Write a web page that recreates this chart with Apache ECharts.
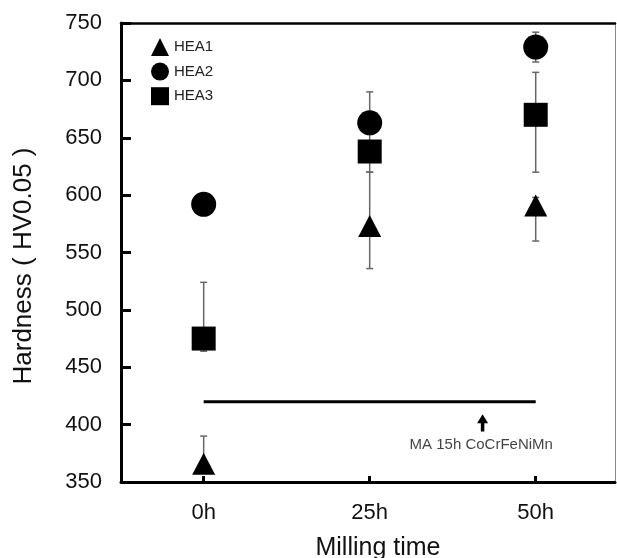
<!DOCTYPE html>
<html>
<head>
<meta charset="utf-8">
<script src="https://cdn.jsdelivr.net/npm/echarts@6/dist/echarts.min.js"></script>
<style>
html,body{margin:0;padding:0;background:#fff;}
#chart{width:617px;height:558px;}
</style>
</head>
<body>
<div id="chart"></div>
<script>
// ---- data ----
const hours = [0, 25, 50];
const hourLabels = ['0h', '25h', '50h'];
const yTicks = [350, 400, 450, 500, 550, 600, 650, 700, 750];
const xAxisName = 'Milling time';
const yAxisName = 'Hardness ( HV0.05 )';

const hea1 = [366, 573, 591];
const hea1Low = [360, 536, 560];
const hea1High = [390, 620, 598];

const hea2 = [592, 663, 729];
const hea2Low = [592, 663, 716];
const hea2High = [592, 663, 742];

const hea3 = [475, 638, 670];
const hea3Low = [464, 620, 620];
const hea3High = [524, 690, 707];

const refLineX = [0, 50];
const refLineY = [420, 420];
const arrowX = [42];
const arrowFrom = [394];
const arrowTo = [409];
const noteText = 'MA 15h CoCrFeNiMn';
const notePos = [41.8, 382];

// ---- build ----
const FONT = '"Liberation Sans", Arial, sans-serif';
function pts(vals) { return hours.map((h, i) => [h, vals[i]]); }
function errs(low, high) { return hours.map((h, i) => [h, low[i], high[i]]); }

const errData = [].concat(errs(hea1Low, hea1High), errs(hea2Low, hea2High), errs(hea3Low, hea3High));

const chart = echarts.init(document.getElementById('chart'), null, {renderer: 'canvas'});
chart.setOption({
  animation: false,
  backgroundColor: '#fff',
  grid: {left: 121, right: 2, top: 23, bottom: 76, containLabel: false, outerBoundsMode: 'none'},
  legend: {
    orient: 'vertical', left: 151, top: 38, padding: 0,
    itemWidth: 18, itemHeight: 18, itemGap: 6.6,
    textStyle: {fontFamily: FONT, fontSize: 15, color: '#222'},
    data: ['HEA1', 'HEA2', 'HEA3']
  },
  graphic: [
    {type: 'text', x: 378, y: 548, silent: true,
      style: {text: xAxisName, font: '25px ' + FONT, fill: '#111', align: 'center', verticalAlign: 'middle'}},
    {type: 'text', x: 24, y: 266, rotation: Math.PI / 2, silent: true,
      style: {text: yAxisName, font: '26px ' + FONT, fill: '#111', align: 'center', verticalAlign: 'middle'}}
  ],
  xAxis: [{
    type: 'value', min: -12.45, max: 61.94,
    splitLine: {show: false},
    axisLine: {onZero: false, lineStyle: {color: '#000', width: 3}},
    axisTick: {show: true, inside: true, length: 6, lineStyle: {color: '#000', width: 3}, customValues: hours},
    axisLabel: {customValues: hours, formatter: v => hourLabels[hours.indexOf(v)] || '',
      fontFamily: FONT, fontSize: 22, color: '#111', margin: 20}
  }, {
    type: 'value', position: 'top', min: -12.45, max: 61.94,
    splitLine: {show: false}, axisTick: {show: false}, axisLabel: {show: false},
    axisLine: {show: true, onZero: false, lineStyle: {color: '#000', width: 2.5}}
  }],
  yAxis: [{
    type: 'value', min: 350, max: 750, interval: 50,
    splitLine: {show: false},
    axisLine: {show: true, onZero: false, lineStyle: {color: '#000', width: 3}},
    axisTick: {show: true, inside: true, length: 10, lineStyle: {color: '#000', width: 3}},
    axisLabel: {fontFamily: FONT, fontSize: 22, color: '#111', margin: 19,
      formatter: v => yTicks.includes(v) ? String(v) : ''}
  }, {
    type: 'value', position: 'right', min: 350, max: 750,
    splitLine: {show: false}, axisTick: {show: false}, axisLabel: {show: false},
    axisLine: {show: true, onZero: false, lineStyle: {color: '#888', width: 1}}
  }],
  series: [
    {
      type: 'custom', name: 'err', z: 1, silent: true,
      data: errData,
      renderItem: function (params, api) {
        const x = api.value(0);
        const lo = api.coord([x, api.value(1)]);
        const hi = api.coord([x, api.value(2)]);
        const c = 3.5;
        const st = {stroke: '#666', lineWidth: 1.5};
        return {type: 'group', children: [
          {type: 'line', shape: {x1: lo[0], y1: lo[1], x2: hi[0], y2: hi[1]}, style: st},
          {type: 'line', shape: {x1: lo[0] - c, y1: lo[1], x2: lo[0] + c, y2: lo[1]}, style: st},
          {type: 'line', shape: {x1: hi[0] - c, y1: hi[1], x2: hi[0] + c, y2: hi[1]}, style: st}
        ]};
      }
    },
    {
      type: 'line', name: 'ref', z: 2, silent: true, symbol: 'none',
      data: refLineX.map((x, i) => [x, refLineY[i]]),
      lineStyle: {color: '#000', width: 3}
    },
    {
      type: 'custom', name: 'arrow', z: 3, silent: true,
      data: arrowX.map((x, i) => [x, arrowFrom[i], arrowTo[i]]),
      renderItem: function (params, api) {
        const x = api.value(0);
        const a = api.coord([x, api.value(1)]);
        const b = api.coord([x, api.value(2)]);
        const hw = 5.5, hh = 9;
        return {type: 'group', children: [
          {type: 'line', shape: {x1: a[0], y1: a[1], x2: b[0], y2: b[1] + hh - 1}, style: {stroke: '#000', lineWidth: 3.5}},
          {type: 'polygon', shape: {points: [[b[0], b[1]], [b[0] - hw, b[1] + hh], [b[0] + hw, b[1] + hh]]}, style: {fill: '#000'}}
        ]};
      }
    },
    {
      type: 'scatter', name: 'note', z: 3, silent: true, symbolSize: 1,
      itemStyle: {color: 'rgba(0,0,0,0)'},
      data: [notePos],
      label: {show: true, position: 'inside', formatter: noteText,
        fontFamily: FONT, fontSize: 15, color: '#111'}
    },
    {
      type: 'scatter', name: 'HEA1', z: 5, symbol: 'triangle', symbolSize: [23, 22],
      itemStyle: {color: '#000', opacity: 1}, data: pts(hea1)
    },
    {
      type: 'scatter', name: 'HEA2', z: 5, symbol: 'circle', symbolSize: 25,
      itemStyle: {color: '#000', opacity: 1}, data: pts(hea2)
    },
    {
      type: 'scatter', name: 'HEA3', z: 5, symbol: 'rect', symbolSize: 24,
      itemStyle: {color: '#000', opacity: 1}, data: pts(hea3)
    }
  ]
});
</script>
</body>
</html>
